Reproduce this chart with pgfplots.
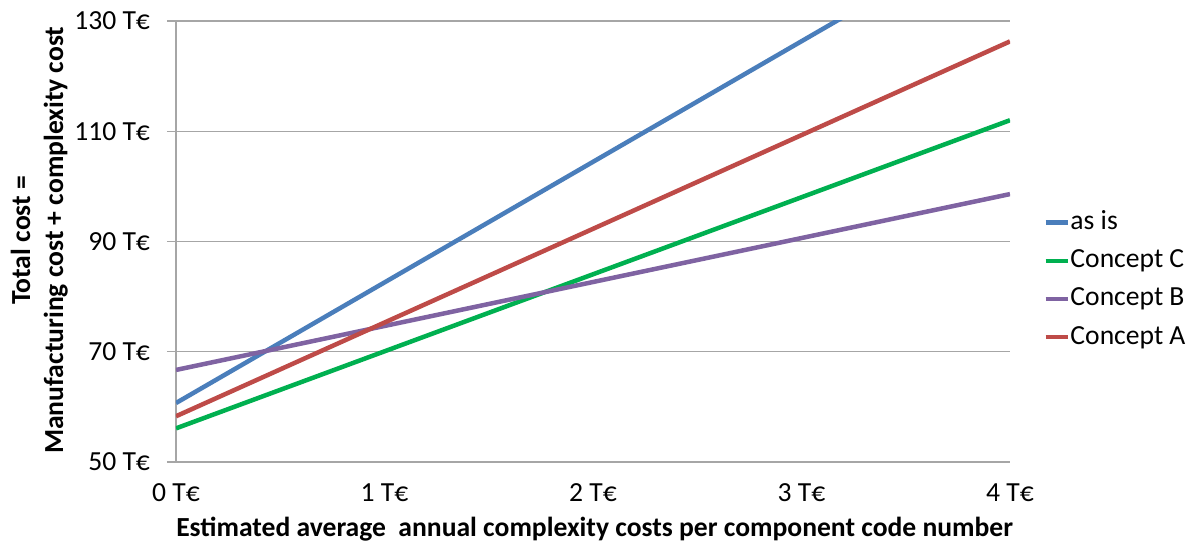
\documentclass[border=0pt]{standalone}
\usepackage{fontspec}
\setmainfont{Carlito}
\usepackage{pgfplots}
\pgfplotsset{compat=1.18}

\definecolor{asis}{HTML}{4A7EBB}
\definecolor{conA}{HTML}{BE4B48}
\definecolor{conB}{HTML}{7F63A2}
\definecolor{conC}{HTML}{00B050}
\definecolor{gridgray}{HTML}{A6A6A6}

\begin{document}
\begin{tikzpicture}[font=\fontsize{13.8bp}{16.5bp}\selectfont]
\useasboundingbox (-88bp,-42.5bp) rectangle (508.5bp,231bp);
\begin{axis}[
    at={(0,0)}, anchor=south west,
    scale only axis,
    width=417bp, height=220.5bp,
    xmin=0, xmax=4, ymin=50, ymax=130,
    xtick={0,1,2,3,4},
    xticklabels={0 T€,1 T€,2 T€,3 T€,4 T€},
    ytick={50,70,90,110,130},
    yticklabels={50 T€,70 T€,90 T€,110 T€,130 T€},
    axis x line*=bottom, axis y line*=left,
    axis line style={gridgray, line width=0.6bp},
    x axis line style={draw=none},
    ymajorgrids, major grid style={gridgray, line width=0.6bp},
    xtick style={draw=none},
    ytick style={gridgray, line width=0.6bp},
    tick align=outside, major tick length=4.5bp,
    xticklabel style={anchor=base, yshift=-15bp},
    yticklabel style={anchor=east, xshift=-5bp},
    xlabel={\bfseries Estimated average~~annual complexity costs per component code number},
    xlabel style={at={(axis description cs:0.502,-0.152)}, anchor=center},
    ylabel={\bfseries Total cost =\\\bfseries Manufacturing cost + complexity cost},
    ylabel style={at={(axis description cs:-0.164,0.503)}, anchor=center, align=center},
    legend style={at={(axis description cs:1.0324,0.413)}, anchor=west, draw=none,
      fill=none, row sep=5.5bp,
      nodes={text height=10bp, text depth=3bp, inner sep=0.3bp}},
    legend cell align=left,
    legend image code/.code={\draw[#1] (0bp,0bp) -- (11bp,0bp);},
    every axis plot/.append style={line width=2.25bp},
]
\addplot[asis] coordinates {(0,60.7) (4,148.2)};
\addplot[conC] coordinates {(0,56.1) (4,112.0)};
\addplot[conB] coordinates {(0,66.7) (4,98.6)};
\addplot[conA] coordinates {(0,58.3) (4,126.3)};
\legend{as is,Concept C,Concept B,Concept A}
\end{axis}
\end{tikzpicture}
\end{document}
